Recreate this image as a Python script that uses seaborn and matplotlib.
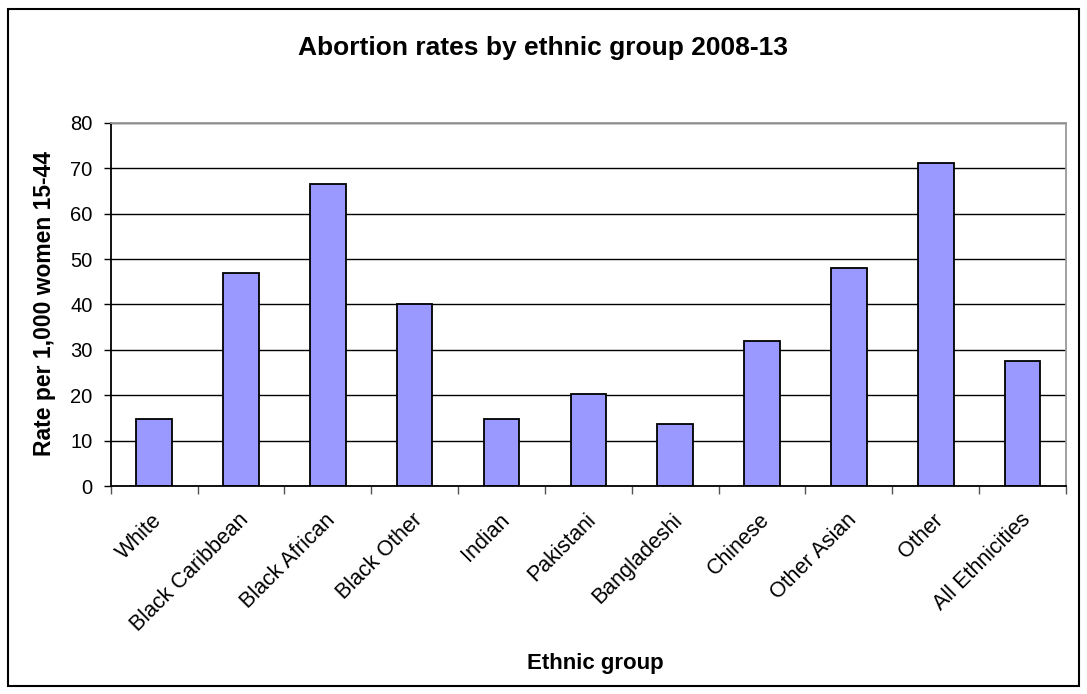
import pandas as pd
import matplotlib
matplotlib.use('Agg')
import matplotlib.pyplot as plt
import matplotlib.patches as patches
import matplotlib.transforms as mtransforms
import seaborn as sns

# 数据
groups = ['White', 'Black Caribbean', 'Black African', 'Black Other', 'Indian', 'Pakistani',
          'Bangladeshi', 'Chinese', 'Other Asian', 'Other', 'All Ethnicities']
rates = [14.7, 47.0, 66.5, 40.2, 14.7, 20.3, 13.6, 32.0, 48.1, 71.1, 27.5]
y_ticks = [0, 10, 20, 30, 40, 50, 60, 70, 80]

df = pd.DataFrame({'group': groups, 'rate': rates})

sns.set_style('white')
plt.rcParams['font.family'] = ['Liberation Sans', 'DejaVu Sans']
plt.rcParams['text.color'] = 'black'
plt.rcParams['axes.labelcolor'] = 'black'
plt.rcParams['xtick.color'] = 'black'
plt.rcParams['ytick.color'] = 'black'

fig = plt.figure(figsize=(10.87, 6.94), dpi=100)
ax = fig.add_axes([0.1018, 0.2997, 0.8789, 0.5231])

sns.barplot(x='group', y='rate', data=df, color='#9999FF', edgecolor='black',
            linewidth=1.3, width=0.41, saturation=1, ax=ax)

ax.set_ylim(0, 80)
ax.set_xlim(-0.5, len(groups) - 0.5)
ax.set_yticks(y_ticks)
ax.yaxis.grid(True, color='black', linewidth=1)
ax.set_axisbelow(True)

for s in ['top', 'right']:
    ax.spines[s].set_color('#999999')
    ax.spines[s].set_linewidth(1.3)
for s in ['left', 'bottom']:
    ax.spines[s].set_color('black')
    ax.spines[s].set_linewidth(1.3)

# 刻度线在类别之间
ax.set_xticks([i + 0.5 for i in range(-1, len(groups))], minor=True)
ax.tick_params(axis='x', which='minor', length=6, width=1, color='#555555', direction='out', bottom=True)
ax.tick_params(axis='x', which='major', length=0, labelsize=15.5, pad=17)
ax.tick_params(axis='y', length=5, width=1, color='black', direction='out', left=True, labelsize=14.5, pad=8)
shift = mtransforms.ScaledTranslation(-3 / 100, 0, fig.dpi_scale_trans)
for lab in ax.get_xticklabels():
    lab.set_rotation(45)
    lab.set_ha('right')
    lab.set_va('top')
    lab.set_rotation_mode('anchor')
    lab.set_transform(lab.get_transform() + shift)

ax.set_xlabel('')
ax.set_ylabel('')
fig.text(45 / 1087, 1 - 304 / 694, 'Rate per 1,000 women 15-44', rotation=90, ha='center', va='center',
         fontsize=16.5, fontweight='bold')
fig.text(595 / 1087, 1 - 663 / 694, 'Ethnic group', ha='center', va='center',
         fontsize=16, fontweight='bold')
fig.text(543 / 1087, 1 - 48 / 694, 'Abortion rates by ethnic group 2008-13', ha='center',
         va='center', fontsize=19, fontweight='bold')

# 外框
fig.patches.append(patches.Rectangle((8 / 1087, 8 / 694), 1071 / 1087, 677 / 694, transform=fig.transFigure,
                                     fill=False, edgecolor='black', linewidth=1.5))

fig.savefig('out.png', dpi=100)
